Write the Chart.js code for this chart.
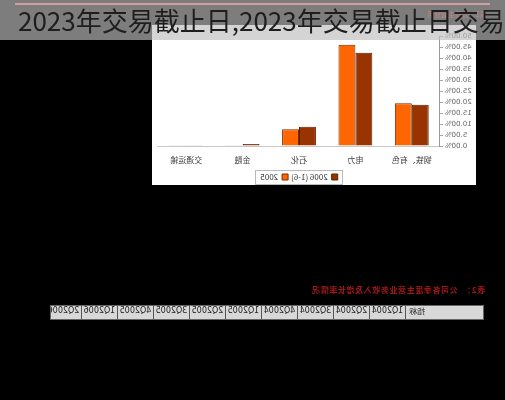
<!DOCTYPE html>
<html><head><meta charset="utf-8">
<script src="https://cdn.jsdelivr.net/npm/chart.js@4.4.0/dist/chart.umd.min.js"></script>
<style>
html,body{margin:0;padding:0;background:#000;width:505px;height:400px;overflow:hidden;}
#mirror{position:absolute;left:0;top:0;width:505px;height:400px;transform:scaleX(-1);}
#panel{position:absolute;left:29px;top:25px;width:324px;height:160px;background:#fff;}
#chartWrap{position:absolute;left:29px;top:25px;width:324px;height:166px;}
#redLine{position:absolute;left:15px;top:3px;width:475px;height:2px;background:#ff6060;}
#smallRed{position:absolute;left:18px;top:9px;font:7px "Noto Sans CJK SC";color:#d02020;}
#caption{position:absolute;left:20px;top:284px;font:bold 8px "Noto Sans CJK SC";color:#a01818;white-space:pre;letter-spacing:0.6px;}
#table{position:absolute;left:21px;top:305px;width:434px;height:15px;background:#d8d8d8;border:1px solid #666;box-sizing:border-box;overflow:hidden;display:flex;white-space:nowrap;}
#table div{flex:none;height:13px;line-height:13px;font:8px "DejaVu Sans";color:#222;border-right:1px solid #555;box-sizing:border-box;text-align:center;}
#band{position:absolute;left:0;top:0;width:505px;height:40px;background:rgba(190,190,190,0.66);}
#title{position:absolute;left:18px;top:2px;font:26px "Noto Sans CJK SC";color:#1e1e1e;white-space:nowrap;line-height:36px;}
</style></head>
<body>
<div id="mirror">
  <div id="redLine"></div>
  <div id="smallRed">表1：公司主营业务</div>
  <div id="panel"></div>
  <div id="chartWrap"><canvas id="c"></canvas></div>
  <div id="caption"></div>
  <div id="table"></div>
</div>
<div id="band"></div>
<div id="title">2023年交易截止日,2023年交易截止日交易</div>
<script>
const categories = ["钢铁、有色", "电力", "石化", "金融", "交通运输"];
const seriesNames = ["2006 (1-6)", "2005"];
const values2006H1 = [18.8, 42.4, 8.8, 0.9, 0.3];
const values2005 = [19.4, 46.0, 7.6, 0.3, 0.3];
const yTicks = {min: 0, max: 50, step: 5};
const tableHeader = "指标";
const quarters = ["1Q2004","2Q2004","3Q2004","4Q2004","1Q2005","2Q2005","3Q2005","4Q2005","1Q2006","2Q2006"];
const captionText = "表2：  公司各季度主营业务收入及增长率情况";

document.getElementById('caption').textContent = captionText;
const tbl = document.getElementById('table');
const h = document.createElement('div');
h.textContent = tableHeader; h.style.width = '78px'; h.style.textAlign = 'right'; h.style.paddingRight = '3px';
tbl.appendChild(h);
quarters.forEach(q => { const d = document.createElement('div'); d.textContent = q; d.style.width = '36px'; tbl.appendChild(d); });

const legendBox = {
  id: 'legendBox',
  afterDraw(chart) {
    const hb = chart.legend && chart.legend.legendHitBoxes;
    if (!hb || !hb.length) return;
    let l = Infinity, r = -Infinity, t = Infinity, b = -Infinity;
    hb.forEach(x => { l = Math.min(l, x.left); r = Math.max(r, x.left + x.width); t = Math.min(t, x.top); b = Math.max(b, x.top + x.height); });
    const ctx = chart.ctx;
    ctx.save();
    ctx.strokeStyle = '#bbb';
    ctx.lineWidth = 1;
    ctx.strokeRect(Math.round(l - 5) + 0.5, Math.round(t - 3) + 0.5, Math.round(r - l + 10), Math.round(b - t + 6));
    ctx.restore();
  }
};

new Chart(document.getElementById('c'), {
  type: 'bar',
  data: {
    labels: categories,
    datasets: [
      {label: seriesNames[0], data: values2006H1, backgroundColor: '#993300', borderColor: '#5a1e00', borderWidth: 1, categoryPercentage: 0.6, barPercentage: 1.0},
      {label: seriesNames[1], data: values2005, backgroundColor: '#ff6600', borderColor: '#7a2a00', borderWidth: 1, categoryPercentage: 0.6, barPercentage: 1.0}
    ]
  },
  options: {
    responsive: true,
    maintainAspectRatio: false,
    animation: false,
    layout: {padding: {top: 11, right: 6, left: 0, bottom: 0}},
    plugins: {
      legend: {
        position: 'bottom',
        fullSize: false,
        labels: {font: {size: 8, family: 'Noto Sans CJK SC'}, color: '#333', boxWidth: 6, boxHeight: 6, padding: 3}
      },
      tooltip: {enabled: false}
    },
    scales: {
      x: {
        grid: {display: false},
        border: {color: '#c8c8c8'},
        ticks: {font: {size: 8, family: 'Noto Sans CJK SC'}, color: '#444', padding: 1, maxRotation: 0, autoSkip: false},
        afterFit: s => { s.height = 24; }
      },
      y: {
        min: yTicks.min, max: yTicks.max,
        grid: {display: true, drawOnChartArea: false, drawTicks: true, tickLength: 3, color: '#aaa'},
        border: {color: '#999', dash: [2, 2]},
        ticks: {stepSize: yTicks.step, autoSkip: false, font: {size: 7, family: 'DejaVu Sans'}, color: '#666', padding: 2,
          callback: v => v.toFixed(2) + '%'},
        afterFit: s => { s.width = 36; }
      }
    }
  },
  plugins: [legendBox]
});
</script>
</body></html>
